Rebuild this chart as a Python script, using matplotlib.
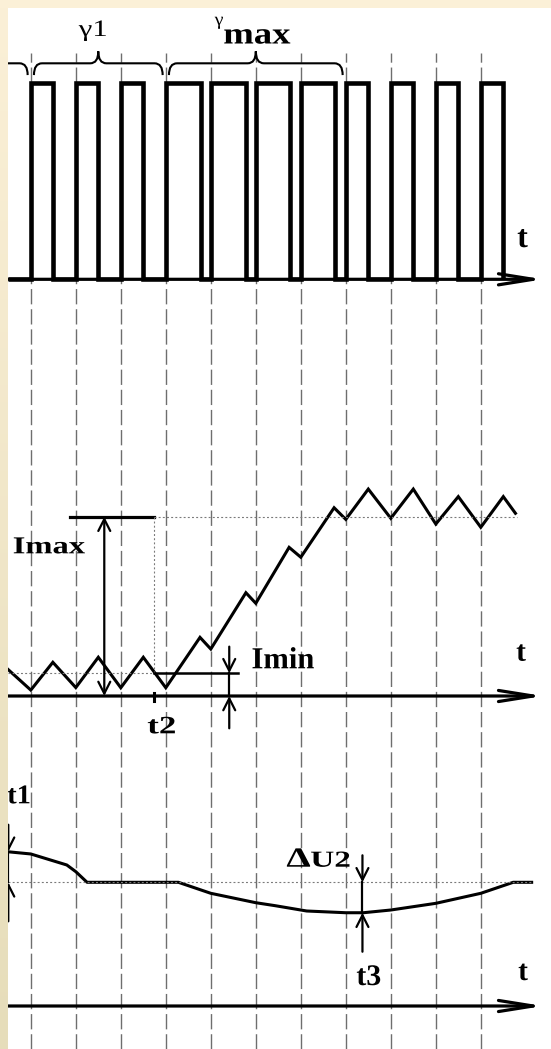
import numpy as np
import matplotlib
matplotlib.use("Agg")
import matplotlib.pyplot as plt
from matplotlib.path import Path
from matplotlib.patches import PathPatch
from matplotlib.transforms import Affine2D
from matplotlib import patheffects

plt.rcParams['font.family'] = ['Liberation Serif', 'DejaVu Serif']
plt.rcParams['lines.scale_dashes'] = False

# ---- data (time in switching periods, signals in relative units) ----
grid_t = list(range(11))
pulse_start = list(range(11))
pulse_width = [0.5, 0.5, 0.5, 0.78, 0.78, 0.75, 0.75, 0.5, 0.5, 0.5, 0.5]
brace_groups = [(-3, 0, ''), (0, 3, 'γ1'), (3, 7, 'γmax')]

t_current = [-0.51, 0, 0.49, 1, 1.5, 2, 2.5, 3, 3.76, 4, 4.78, 5, 5.74, 6,
             6.74, 7, 7.5, 8, 8.5, 9, 9.5, 10, 10.5, 10.77]
i_current = [0.149, 0.033, 0.188, 0.047, 0.216, 0.046, 0.216, 0.046, 0.327,
             0.262, 0.576, 0.517, 0.829, 0.774, 1.050, 0.985, 1.154, 0.991,
             1.154, 0.959, 1.112, 0.941, 1.112, 1.019]
i_max = 1.0
i_min = 0.127
t2 = 2.744
t_imax_arrow = 1.633
t_imin_arrow = 4.41

t_voltage = [-0.51, 0, 0.8, 1, 1.25, 3.28, 4, 5, 5.43, 6.13, 7, 7.39, 8, 9,
             10, 10.72, 11.13]
u_voltage = [1.247, 1.229, 1.140, 1.086, 1.0, 1.0, 0.911, 0.835, 0.811, 0.768,
             0.754, 0.754, 0.776, 0.830, 0.911, 1.0, 1.0]
u_ref = 1.0
u_min = 0.754
u_start = 1.247
t1 = -0.50
t3 = 7.37

# ---- layout (pixels) ----
W, H = 551, 1049
T0_PX, DT_PX = 30.8, 45.0
XLIM = (-T0_PX / DT_PX, (W - T0_PX) / DT_PX)
T_LEFT = (8 - T0_PX) / DT_PX
T_TIP = (543.3 - T0_PX) / DT_PX

fig = plt.figure(figsize=(W / 100, H / 100), dpi=100)
fig.patch.set_facecolor('white')


def panel(base_px, unit_px):
    ax = fig.add_axes([0, 0, 1, 1])
    ax.set_xlim(*XLIM)
    ax.set_ylim((base_px - H) / unit_px, base_px / unit_px)
    ax.axis('off')
    ax.patch.set_alpha(0)
    return ax


def px(ax, dy):
    # pixel length -> data units on y of this axes
    y0, y1 = ax.get_ylim()
    return dy * (y1 - y0) / H


def time_axis(ax):
    ax.annotate('', xy=(T_TIP, 0), xytext=(XLIM[0], 0),
                arrowprops=dict(arrowstyle='->,head_length=25,head_width=4',
                                lw=2.3, color='k', shrinkA=0, shrinkB=0,
                                mutation_scale=1))


def small_arrow(ax, x, y_from, y_to):
    ax.annotate('', xy=(x, y_to), xytext=(x, y_from),
                arrowprops=dict(arrowstyle='->,head_length=8.5,head_width=4.3',
                                lw=1.6, color='k', shrinkA=0, shrinkB=0,
                                mutation_scale=1))


class HStretch(patheffects.AbstractPathEffect):
    def __init__(self, sx=1.0):
        super().__init__()
        self.sx = sx

    def draw_path(self, renderer, gc, tpath, affine, rgbFace=None):
        ext = tpath.get_extents(affine)
        cx = 0.5 * (ext.x0 + ext.x1)
        aff = affine + Affine2D().translate(-cx, 0).scale(self.sx, 1.0).translate(cx, 0)
        renderer.draw_path(gc, tpath, aff, rgbFace)


def label(x, y, s, size, bold=True, sx=1.0):
    fig.text(x / W, 1 - y / H, s, ha='center', va='baseline', fontsize=size,
             fontweight='bold' if bold else 'normal', color='k',
             path_effects=[HStretch(sx)])


dotted = dict(color='#7a7a7a', lw=0.8, dashes=(1.4, 1.6))

# ---- pulse panel ----
ax_p = panel(279.3, 196.0)
for t in grid_t:
    ax_p.axvline(t, ymin=0, ymax=1 - 53 / H, color='#6e6e6e', lw=1.0,
                 dashes=(11, 3.5), zorder=0)

pt, pv = [T_LEFT], [0]
for s, w in zip(pulse_start, pulse_width):
    pt += [s, s, s + w, s + w]
    pv += [0, 1, 1, 0]
ax_p.plot(pt, pv, color='k', lw=3.3, solid_joinstyle='miter', solid_capstyle='butt')
time_axis(ax_p)

y_line, y_end, y_tip, r = 1.102, 1.042, 1.163, 0.18
for a, b, name in brace_groups:
    xa, xb = a + 0.07, b - 0.07
    xm = 0.5 * (a + b)
    verts = [(xa, y_end), (xa, y_line), (xa + r, y_line),
             (xm - r, y_line), (xm, y_line), (xm, y_tip),
             (xm, y_line), (xm + r, y_line),
             (xb - r, y_line), (xb, y_line), (xb, y_end)]
    codes = [Path.MOVETO, Path.CURVE3, Path.CURVE3,
             Path.LINETO, Path.CURVE3, Path.CURVE3,
             Path.CURVE3, Path.CURVE3,
             Path.LINETO, Path.CURVE3, Path.CURVE3]
    ax_p.add_patch(PathPatch(Path(verts, codes), fill=False, lw=1.5, ec='k'))

label(93, 36, 'γ1', 17, bold=False, sx=1.3)
label(219, 25, 'γ', 13, bold=False, sx=1.1)
label(257, 43.5, 'max', 22, sx=1.2)
label(522.5, 247, 't', 23)

# ---- current panel ----
ax_i = panel(696.0, 179.3)
ax_i.plot(t_current, i_current, color='k', lw=2.2, solid_joinstyle='miter')
time_axis(ax_i)
ax_i.plot([0.871, t2], [i_max, i_max], color='k', lw=2.3)
ax_i.plot([t2, 10.80], [i_max, i_max], **dotted)
ax_i.plot([t2, t2], [i_min, i_max], **dotted)
ax_i.plot([T_LEFT, t2], [i_min, i_min], **dotted)
ax_i.plot([t2, 4.61], [i_min, i_min], color='k', lw=1.8)
ax_i.plot([t2, t2], [px(ax_i, 3.5), -px(ax_i, 4.5)], color='k', lw=2.2)
ax_i.annotate('', xy=(t_imax_arrow, i_max), xytext=(t_imax_arrow, 0),
              arrowprops=dict(arrowstyle='<->,head_length=8.5,head_width=4.3',
                              lw=1.6, color='k', shrinkA=0, shrinkB=0,
                              mutation_scale=1))
small_arrow(ax_i, t_imin_arrow, i_min + px(ax_i, 26.6), i_min)
ax_i.plot([t_imin_arrow, t_imin_arrow], [i_min, 0], color='k', lw=1.6)
small_arrow(ax_i, t_imin_arrow, -px(ax_i, 32.3), 0)

label(49, 553.3, 'Imax', 17.5, sx=1.34)
label(283, 668.3, 'Imin', 22, sx=1.0)
label(521, 660.7, 't', 21)
label(161.7, 733.3, 't2', 18, sx=1.4)

# ---- voltage panel ----
ax_u = panel(1006.0, 123.7)
ax_u.plot(t_voltage, u_voltage, color='k', lw=2.2)
ax_u.plot([T_LEFT, 11.13], [u_ref, u_ref], **dotted)
time_axis(ax_u)
small_arrow(ax_u, t3, u_ref + px(ax_u, 27), u_ref)
ax_u.plot([t3, t3], [u_ref, u_min], color='k', lw=1.6)
small_arrow(ax_u, t3, u_min - px(ax_u, 39), u_min)
small_arrow(ax_u, t1, u_start + px(ax_u, 27), u_start)
ax_u.plot([t1, t1], [u_start, u_ref], color='k', lw=1.6)
small_arrow(ax_u, t1, u_ref - px(ax_u, 39), u_ref)

label(19, 803.3, 't1', 19.5, sx=1.05)
label(298.5, 866.7, 'Δ', 20, sx=1.4)
label(330.5, 866.7, 'U2', 16.5, sx=1.45)
label(368.8, 985, 't3', 21.5)
label(523, 980, 't', 21)

# ---- cream frame strips ----
ax_o = fig.add_axes([0, 0, 1, 1], zorder=10)
ax_o.set_xlim(0, W)
ax_o.set_ylim(H, 0)
ax_o.axis('off')
ax_o.patch.set_alpha(0)
grad = np.linspace(0, 1, 256)[:, None, None]
top_c = np.array([251, 240, 215]) / 255
bot_c = np.array([230, 221, 186]) / 255
ax_o.imshow(top_c + (bot_c - top_c) * grad, extent=(0, 7.5, H, 0), aspect='auto')
ax_o.imshow(np.tile(top_c, (1, 2, 1)), extent=(0, W, 8, 0), aspect='auto')
ax_o.set_xlim(0, W)
ax_o.set_ylim(H, 0)

fig.savefig('out.png', dpi=100)
